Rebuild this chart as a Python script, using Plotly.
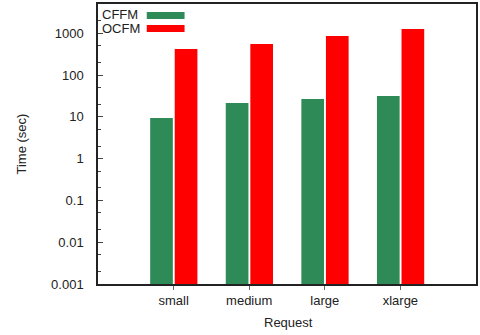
import plotly.graph_objects as go

# Run times per request size (seconds)
requests = ["small", "medium", "large", "xlarge"]
cffm_time = [9.4, 21.4, 26.7, 31.5]
ocfm_time = [419, 552, 857, 1260]

series_names = ["CFFM", "OCFM"]
series_colors = ["#2E8B57", "#FF0000"]

y_tickvals = [0.001, 0.01, 0.1, 1, 10, 100, 1000]
y_ticktext = ["0.001", "0.01", "0.1", "1", "10", "100", "1000"]

FONT = "Liberation Sans, Arial, sans-serif"

fig = go.Figure()
fig.add_trace(go.Bar(
    x=requests, y=cffm_time, name=series_names[0],
    marker=dict(color=series_colors[0], line=dict(width=0)),
    width=0.30, offset=-0.31, showlegend=False,
))
fig.add_trace(go.Bar(
    x=requests, y=ocfm_time, name=series_names[1],
    marker=dict(color=series_colors[1], line=dict(width=0)),
    width=0.30, offset=0.015, showlegend=False,
))

# Key in the upper-left corner: label on the left, colour strip on the right
key_rows = [(0.961, 0.971, 0.946), (0.911, 0.925, 0.900)]
for name, color, (ty, y1, y0) in zip(series_names, series_colors, key_rows):
    fig.add_annotation(
        text=name, xref="paper", yref="paper", x=0.005, y=ty,
        xanchor="left", yanchor="middle", showarrow=False,
        font=dict(family=FONT, size=13, color="#222"),
    )
    fig.add_shape(
        type="rect", xref="paper", yref="paper",
        x0=0.129, x1=0.229, y0=y0, y1=y1,
        fillcolor=color, line=dict(width=0),
    )

fig.add_annotation(
    text="Time (sec)", xref="paper", yref="paper", x=-0.205, y=0.5,
    xanchor="center", yanchor="middle", textangle=-90, showarrow=False,
    font=dict(family=FONT, size=13, color="#222"),
)
fig.add_annotation(
    text="Request", xref="paper", yref="paper", x=0.505, y=-0.139,
    xanchor="center", yanchor="middle", showarrow=False,
    font=dict(family=FONT, size=13, color="#222"),
)

fig.update_layout(
    width=480, height=335,
    margin=dict(l=98, r=2, t=4, b=51),
    paper_bgcolor="white", plot_bgcolor="white",
    font=dict(family=FONT, size=13, color="#222"),
    barmode="overlay",
    showlegend=False,
)
fig.update_xaxes(
    range=[-1, 4],
    showline=True, linecolor="#222", linewidth=1.5, mirror=True,
    ticks="outside", ticklen=4, tickcolor="#666",
    showgrid=False, zeroline=False,
)
fig.update_yaxes(
    type="log", range=[-3, 3.699],
    tickvals=y_tickvals, ticktext=y_ticktext,
    showline=True, linecolor="#222", linewidth=1.5, mirror=True,
    ticks="inside", ticklen=5, tickcolor="#444",
    minor=dict(ticks="inside", ticklen=3, dtick="D2", tickcolor="#444"),
    ticklabelstandoff=10,
    showgrid=False, zeroline=False,
)

fig.write_html("out.html")
